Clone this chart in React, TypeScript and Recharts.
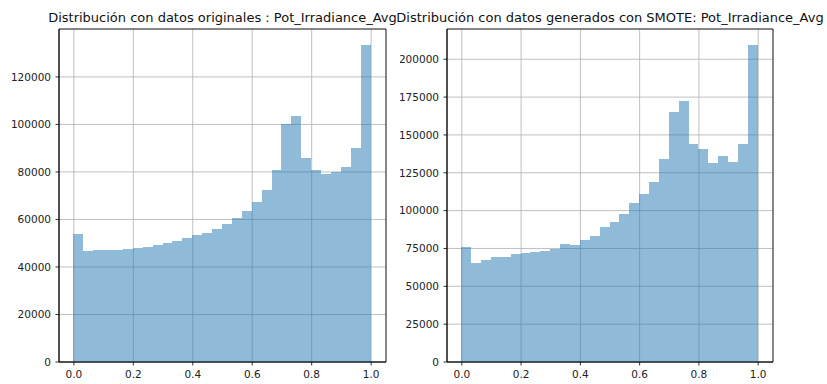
import React from "react";
import {
  ComposedChart,
  Bar,
  XAxis,
  YAxis,
  CartesianGrid,
  ReferenceArea,
} from "recharts";

// 30 bins over [0, 1]; each bar sits on its bin centre
const BIN_COUNT = 30;
const binCenters = Array.from({ length: BIN_COUNT }, (_, i) => (i + 0.5) / BIN_COUNT);

const originalCounts = [
  54000, 46800, 47000, 47200, 47300, 47600, 47900, 48400, 49100, 50200,
  51100, 52300, 53300, 54500, 56000, 58000, 60500, 63500, 67400, 72300,
  80800, 100000, 103400, 85800, 81000, 79200, 80000, 82200, 90200, 133500,
];

const smoteCounts = [
  76000, 65700, 67400, 69300, 69500, 71600, 72300, 72700, 73000, 74700,
  78000, 77400, 80300, 83500, 89000, 92800, 98000, 105200, 110900, 118600,
  133800, 165000, 172300, 144300, 140600, 131600, 136400, 132200, 144100, 209500,
];

const xTicks = [0, 0.2, 0.4, 0.6, 0.8, 1.0];
const originalYTicks = [0, 20000, 40000, 60000, 80000, 100000, 120000];
const smoteYTicks = [0, 25000, 50000, 75000, 100000, 125000, 150000, 175000, 200000];

const originalTitle = "Distribución con datos originales : Pot_Irradiance_Avg";
const smoteTitle = "Distribución con datos generados con SMOTE: Pot_Irradiance_Avg";

const X_DOMAIN: [number, number] = [-0.05, 1.05];
const FONT = "'DejaVu Sans', sans-serif";
const BAR_COLOR = "#1f77b4";

type HistProps = {
  counts: number[];
  yTicks: number[];
  left: number;
  width: number;
  yAxisWidth: number;
  rightMargin: number;
};

// bars span the full bin; edges are snapped to whole pixels from the bar centre
// so that neighbouring bins meet without a seam or overlap
const makeHistBar = (binPx: number) => (props: any) => {
  const { x, y, width, height } = props;
  const cx = x + width / 2;
  const x0 = Math.round(cx - binPx / 2);
  const x1 = Math.round(cx + binPx / 2);
  const y0 = Math.round(y);
  const y1 = Math.round(y + height);
  return (
    <rect
      x={x0}
      y={y0}
      width={x1 - x0}
      height={y1 - y0}
      fill={BAR_COLOR}
      fillOpacity={0.5}
    />
  );
};

function Histogram({ counts, yTicks, left, width, yAxisWidth, rightMargin }: HistProps) {
  const data = binCenters.map((x, i) => ({ x, count: counts[i] }));
  const yMax = Math.max(...counts) * 1.05;
  const tickStyle = { fontSize: 10.5, fill: "#222", fontFamily: FONT };
  const plotWidth = width - yAxisWidth - rightMargin;
  const binPx = plotWidth / (X_DOMAIN[1] - X_DOMAIN[0]) / BIN_COUNT;

  return (
    <div style={{ position: "absolute", left, top: 0, width, height: 384 }}>
      <ComposedChart
        width={width}
        height={384}
        data={data}
        margin={{ top: 29, right: rightMargin, bottom: 0, left: 0 }}
        barCategoryGap={0}
        barGap={0}
      >
        <XAxis
          dataKey="x"
          type="number"
          domain={X_DOMAIN}
          ticks={xTicks}
          tickFormatter={(v: number) => v.toFixed(1)}
          height={22}
          tick={tickStyle}
          tickSize={3.5}
          tickMargin={5}
          tickLine={{ stroke: "#000", strokeWidth: 0.8 }}
          axisLine={{ stroke: "#000", strokeWidth: 0.8 }}
          allowDataOverflow
        />
        <YAxis
          type="number"
          domain={[0, yMax]}
          ticks={yTicks}
          width={yAxisWidth}
          tick={tickStyle}
          tickSize={3.5}
          tickMargin={4.5}
          tickLine={{ stroke: "#000", strokeWidth: 0.8 }}
          axisLine={{ stroke: "#000", strokeWidth: 0.8 }}
          allowDataOverflow
        />
        <Bar
          dataKey="count"
          isAnimationActive={false}
          barSize={binPx}
          shape={makeHistBar(binPx)}
        />
        <CartesianGrid stroke="#b0b0b0" strokeWidth={0.8} />
        <ReferenceArea
          x1={X_DOMAIN[0]}
          x2={X_DOMAIN[1]}
          y1={0}
          y2={yMax}
          fill="none"
          stroke="#000"
          strokeWidth={0.8}
          ifOverflow="visible"
        />
      </ComposedChart>
    </div>
  );
}

export default function App() {
  return (
    <div
      style={{
        position: "absolute",
        left: 0,
        top: 0,
        width: 827,
        height: 384,
        background: "#fff",
        overflow: "hidden",
      }}
    >
      <Histogram
        counts={originalCounts}
        yTicks={originalYTicks}
        left={0}
        width={413}
        yAxisWidth={59}
        rightMargin={27}
      />
      <Histogram
        counts={smoteCounts}
        yTicks={smoteYTicks}
        left={400}
        width={427}
        yAxisWidth={47}
        rightMargin={54}
      />
      {/* axes titles, centred over each plot area */}
      <svg
        width={827}
        height={30}
        style={{ position: "absolute", left: 0, top: 0, overflow: "visible" }}
      >
        <text x={222.5} y={22} textAnchor="middle" fontFamily={FONT} fontSize={13} fill="#111">
          {originalTitle}
        </text>
        <text x={610} y={22} textAnchor="middle" fontFamily={FONT} fontSize={13} fill="#111">
          {smoteTitle}
        </text>
      </svg>
    </div>
  );
}
